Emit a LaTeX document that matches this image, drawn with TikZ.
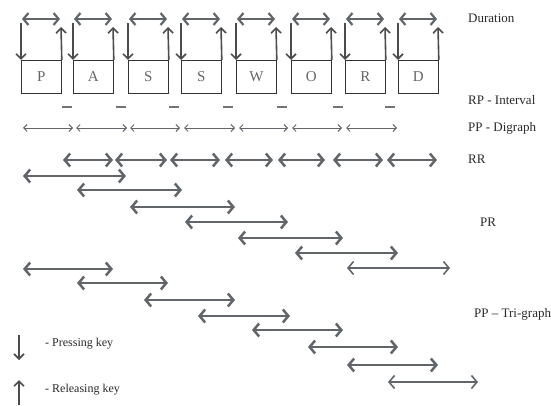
\documentclass[tikz,border=0pt]{standalone}
\usepackage{fontspec}
\setmainfont{Liberation Serif}
\usetikzlibrary{arrows.meta}
\definecolor{arrc}{RGB}{98,102,106}
\definecolor{txtc}{RGB}{40,40,40}
\begin{document}
\begin{tikzpicture}[x=1pt,y=-1pt,
  keybox/.style={draw=black!80, line width=0.8pt, minimum width=40pt, minimum height=33pt, inner sep=0pt, anchor=north west, font=\fontsize{15}{15}\selectfont, text=black!60},
  lbl/.style={anchor=west, text=txtc, font=\fontsize{13}{13}\selectfont, inner sep=0pt},
  leg/.style={anchor=west, text=txtc, font=\fontsize{12}{12}\selectfont, inner sep=0pt},
  dur/.style={draw=arrc, line width=2.2pt, {Straight Barb[length=5pt,width=12pt]}-{Straight Barb[length=5pt,width=12pt]}},
  vert/.style={draw=black!70, line width=1.6pt, -{Straight Barb[length=5pt,width=10pt]}},
  dig/.style={draw=arrc, line width=0.9pt, {Straight Barb[length=3.5pt,width=7pt]}-{Straight Barb[length=3.5pt,width=7pt]}},
  big/.style={draw=arrc, line width=2.5pt, {Straight Barb[length=5.5pt,width=13pt]}-{Straight Barb[length=5.5pt,width=13pt]}},
  mid/.style={draw=arrc, line width=1.6pt, {Straight Barb[length=5.5pt,width=13pt]}-{Straight Barb[length=5.5pt,width=13pt]}},
  dashmark/.style={draw=black!55, line width=1.3pt}
]
\useasboundingbox (0,0) rectangle (551,406);

% key boxes
\foreach \i/\x/\l in {1/21/P,2/73/A,3/128/S,4/181/S,5/236/W,6/291/O,7/345/R,8/398/D}{
  \node[keybox] (k\i) at (\x,60) {\l};
  \coordinate (d\i) at (\x,23);
  \coordinate (u\i) at (\x+40,27);
  \draw[vert] (d\i) -- (k\i.north west);
  \draw[vert] (k\i.north east) -- (u\i);
  \coordinate (dl\i) at (\x+1,19);
  \coordinate (dr\i) at (\x+39,19);
  \draw[dur] (dl\i) -- (dr\i);
}

% RP - interval dashes
\foreach \c in {67,121,174,228,282,338,390}{
  \draw[dashmark] (\c-5,107) -- (\c+5,107);
}

% PP - Digraph
\foreach \a/\b in {23/73,76/127,130/180,184/235,239/288,292/342,346/397}{
  \draw[dig] (\a,128) -- (\b,128);
}

% RR
\foreach \a/\b in {63/113,115/167,170/220,225/273,278/325,333/383,387/437}{
  \draw[big] (\a,160) -- (\b,160);
}

% PR
\foreach \a/\b/\y in {23/126/176,77/182/190,130/235/207,185/288/222,238/343/238,295/398/253}{
  \draw[big] (\a,\y) -- (\b,\y);
}
\draw[mid] (347,268) -- (450,268);

% PP - Tri-graph
\foreach \a/\b/\y in {23/113/269,77/168/283,144/235/300,198/290/316,252/343/330,308/398/347,347/438/365}{
  \draw[big] (\a,\y) -- (\b,\y);
}
\draw[mid] (388,382) -- (478,382);

% labels
\node[lbl] (tdur) at (468,18) {Duration};
\node[lbl] (trp) at (468,100) {RP - Interval};
\node[lbl] (tdig) at (468,128) {PP - Digraph};
\node[lbl] (trr) at (468,159) {RR};
\node[lbl] (tpr) at (480,222) {PR};
\node[lbl] (ttri) at (474,314) {PP – Tri-graph};

% legend
\coordinate (la) at (19,335);
\coordinate (lb) at (19,360);
\draw[vert] (la) -- (lb);
\coordinate (lc) at (19,405);
\coordinate (ld) at (19,380);
\draw[vert] (lc) -- (ld);
\node[leg] (tpress) at (45,344) {- Pressing key};
\node[leg] (trel) at (45,390) {- Releasing key};
\end{tikzpicture}
\end{document}
